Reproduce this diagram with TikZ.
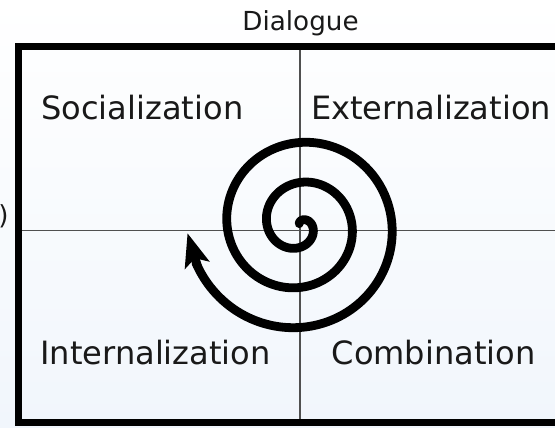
\documentclass[tikz,border=0pt]{standalone}
\usepackage{fontspec}
\setmainfont{DejaVu Sans}
\usetikzlibrary{arrows.meta}
\definecolor{bgblue}{RGB}{241,246,252}
\definecolor{divgray}{RGB}{80,80,80}
\begin{document}
\begin{tikzpicture}[x=1bp,y=-1bp,
  quad/.style={font=\fontsize{32.2}{38}\selectfont, inner sep=0pt, anchor=base west, text=black!90},
  axislabel/.style={font=\fontsize{26.3}{31}\selectfont, inner sep=0pt, text=black!90},
  divider/.style={line width=1.3bp, draw=divgray},
  frame/.style={line width=6.5bp, draw=black},
  spiralline/.style={line width=8.8bp, line cap=round, line join=round, draw=black}]
\clip (0,0) rectangle (555,427);
\shade[top color=white, bottom color=bgblue] (0,0) rectangle (555,427);
% frame and dividers
\coordinate (tl) at (18.3,46.7);
\coordinate (br) at (620,422.7);
\coordinate (vtop) at (300,46.7);
\coordinate (vbot) at (300,422.7);
\coordinate (hleft) at (18.3,230.5);
\coordinate (hright) at (620,230.5);
\draw[divider] (vtop) -- (vbot);
\draw[divider] (hleft) -- (hright);
\draw[frame] (tl) rectangle (br);
% spiral
\draw[spiralline] plot[domain=-100:880, samples=400]
  ({299.5+(\x/9+12.5)*cos(\x)},{225+(\x/9+12.5)*sin(\x)});
\coordinate (arrowtail) at ({299.5+(878/9+12.5)*cos(878)},{225+(878/9+12.5)*sin(878)});
\coordinate (arrowtip) at (187.5,233.2);
\draw[line width=8.8bp, -{Stealth[length=33bp,width=25bp,inset=7bp]}] (arrowtail) -- (arrowtip);
% labels
\node[quad] (soc) at (41.1,119.3) {Socialization};
\node[quad] (ext) at (310.8,119.3) {Externalization};
\node[quad] (int) at (40.1,364.3) {Internalization};
\node[quad] (comb) at (331.5,364.3) {Combination};
\node[axislabel, anchor=base] (dia) at (300.5,30) {Dialogue};
\node[axislabel, anchor=base east] (lefttext) at (8.7,224) {)};
\end{tikzpicture}
\end{document}
